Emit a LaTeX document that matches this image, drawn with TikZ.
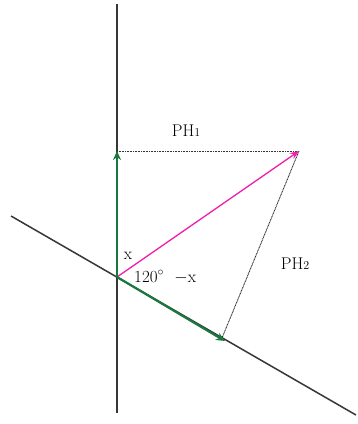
\documentclass[tikz,border=0pt]{standalone}
\usetikzlibrary{arrows.meta}
\definecolor{vgreen}{RGB}{25,120,60}
\definecolor{vpink}{RGB}{240,30,170}
\definecolor{axisgray}{RGB}{55,55,55}
\tikzset{
  axisline/.style={axisgray, line width=1.5pt},
  vec/.style={line width=2.2pt, -{Stealth[length=9pt,width=8pt]}},
  projline/.style={black!80, line width=0.9pt, dash pattern=on 1pt off 0.6pt},
  lbl/.style={font=\fontsize{17}{20}\selectfont, inner sep=1pt},
}
\begin{document}
\begin{tikzpicture}[x=1pt,y=-1pt]
\useasboundingbox[fill=white] (0,0) rectangle (358,424);
\coordinate (O) at (117,277);
\coordinate (top) at (117,4);
\coordinate (bot) at (117,413);
\coordinate (left) at (11,216);
\coordinate (right) at (356,415);
\coordinate (A) at (117,151);
\coordinate (B) at (225,341);
\coordinate (P) at (299,151);
\coordinate (Q) at (222,338);
\draw[axisline] (top) -- (bot);
\draw[axisline] (left) -- (right);
\draw[projline] (A) -- (P);
\draw[projline] (P) -- (Q);
\draw[vpink, line width=1.3pt, -{Stealth[length=9pt,width=7pt]}] (O) -- (P);
\draw[vec, vgreen] (O) -- (A);
\draw[vec, vgreen] (O) -- (B);
\node[lbl] (ph1) at (186,131) {PH{\fontsize{12}{14}\selectfont 1}};
\node[lbl] (ph2) at (295,264) {PH{\fontsize{12}{14}\selectfont 2}};
\node[lbl] (x) at (128,256) {x};
\node[lbl, anchor=west] (ang) at (133,277) {120$^{\circ}$\ \ $-$x};
\end{tikzpicture}
\end{document}
